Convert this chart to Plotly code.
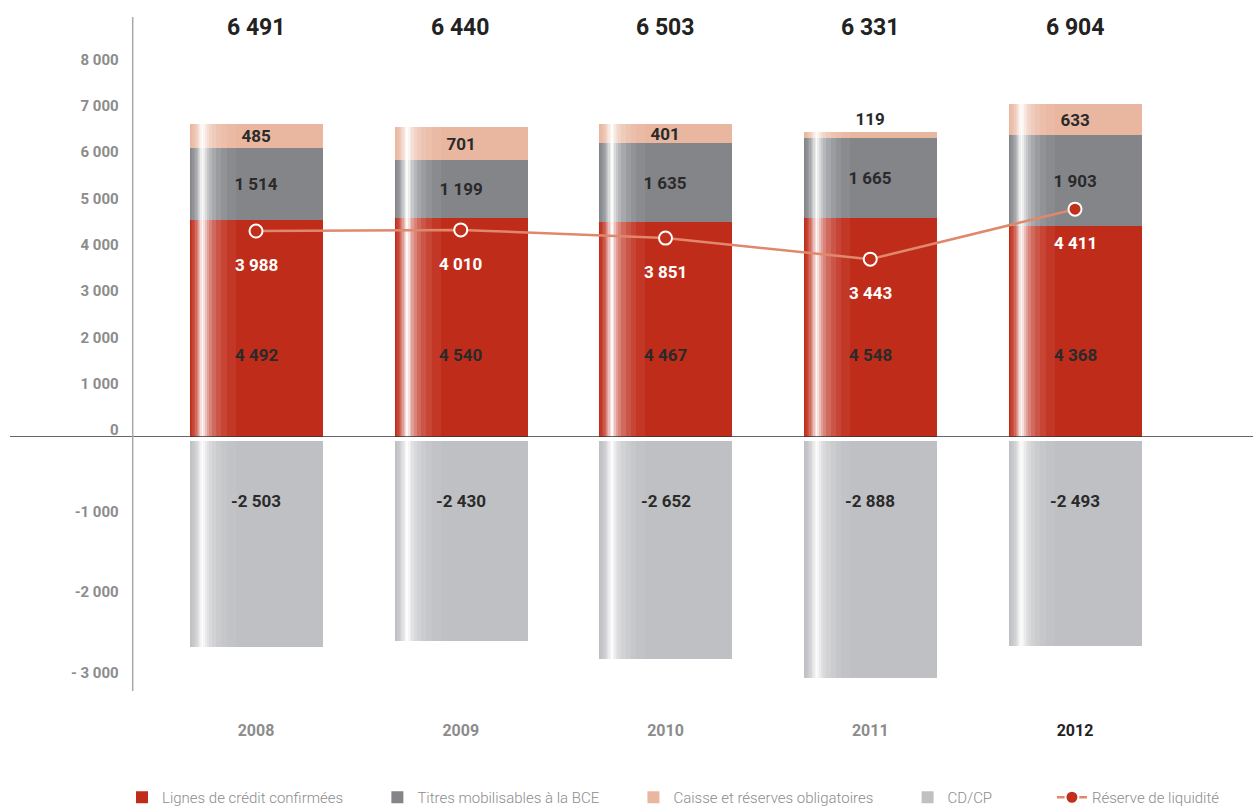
import plotly.graph_objects as go

# ---------------- data ----------------
years = ["2008", "2009", "2010", "2011", "2012"]
lignes_credit = [4492, 4540, 4467, 4548, 4368]
titres_bce = [1514, 1199, 1635, 1665, 1903]
caisse_reserves = [485, 701, 401, 119, 633]
cd_cp = [-2503, -2430, -2652, -2888, -2493]
reserve_liquidite = [3988, 4010, 3851, 3443, 4411]
totals = [6491, 6440, 6503, 6331, 6904]

pos_tick_vals = [0, 1000, 2000, 3000, 4000, 5000, 6000, 7000, 8000]
pos_tick_text = ["0", "1 000", "2 000", "3 000", "4 000", "5 000", "6 000", "7 000", "8 000"]
neg_tick_vals = [-1000, -2000, -3000]
neg_tick_text = ["-1 000", "-2 000", "- 3 000"]

# ---------------- styling ----------------
W, H = 1253, 808
FONT = "Roboto, Liberation Sans, Arial, sans-serif"
RED = "#bf2d1a"
DGRAY = "#848589"
PINK = "#e9b7a0"
LGRAY = "#bfc0c3"
LINE = "#e0886b"
MARK = "#c0301a"
TXT = "#2a2a2a"
TICK = "#8c8c8c"
PAD = "\u00a0" * 8  # extra spacing after legend entries


def py(p):
    return 1 - p / H


def pxx(p):
    return p / W


def fmt(v):
    return f"{v:,}".replace(",", " ")


BAR_W = 0.65
BAR_PX = 133.0
UPX = BAR_W / BAR_PX  # category units per pixel

# vertical scales (pixels per unit value)
POS_PX = 0.0482
NEG_PX = 0.0822
LINE_PX = 0.05165
TICK_POS_PX = 0.0463
TICK_NEG_PX = 0.0803
TOP_H = 437 - 17
BOT_H = 691 - 441

idx = list(range(len(years)))
stack_base_gray = [a for a in lignes_credit]
stack_base_pink = [a + b for a, b in zip(lignes_credit, titres_bce)]
stack_total = [a + b + c for a, b, c in zip(lignes_credit, titres_bce, caisse_reserves)]

fig = go.Figure()

fig.add_trace(go.Bar(
    x=years, y=lignes_credit, base=[0] * len(years), name="Lignes de crédit confirmées" + PAD,
    marker=dict(color=RED, line=dict(width=0)), width=BAR_W, offset=-BAR_W / 2,
    xaxis="x", yaxis="y", hoverinfo="skip",
))
fig.add_trace(go.Bar(
    x=years, y=titres_bce, base=stack_base_gray, name="Titres mobilisables à la BCE" + PAD,
    marker=dict(color=DGRAY, line=dict(width=0)), width=BAR_W, offset=-BAR_W / 2,
    text=[fmt(v) for v in titres_bce], textposition="inside", insidetextanchor="middle",
    constraintext="none",
    textfont=dict(family=FONT, size=17, color=TXT, weight="bold"),
    xaxis="x", yaxis="y", hoverinfo="skip",
))
fig.add_trace(go.Bar(
    x=years, y=caisse_reserves, base=stack_base_pink, name="Caisse et réserves obligatoires" + PAD,
    marker=dict(color=PINK, line=dict(width=0)), width=BAR_W, offset=-BAR_W / 2,
    text=[fmt(v) for v in caisse_reserves],
    textposition=["outside" if v < 300 else "inside" for v in caisse_reserves],
    insidetextanchor="middle", constraintext="none", cliponaxis=False,
    textfont=dict(family=FONT, size=17, color=TXT, weight="bold"),
    xaxis="x", yaxis="y", hoverinfo="skip",
))
fig.add_trace(go.Bar(
    x=years, y=cd_cp, base=[0] * len(years), name="CD/CP" + PAD + "\u00a0" * 7,
    marker=dict(color=LGRAY, line=dict(width=0)), width=BAR_W, offset=-BAR_W / 2,
    xaxis="x2", yaxis="y2", hoverinfo="skip",
))

# cylinder-like highlight: nested translucent white layers near the left edge
layer_left = [1, 2.5, 4, 5.2, 6.7, 7.8, 9, 10.5, 11.8]
layer_right = [46, 37, 31.5, 26.5, 22, 19, 16.8, 15, 13.2]
layer_level = [0.05, 0.12, 0.2, 0.3, 0.42, 0.55, 0.7, 0.85, 0.97]
prev = 0.0
for l0, r0, lev in zip(layer_left, layer_right, layer_level):
    a = 1 - (1 - lev) / (1 - prev)
    prev = lev
    col = f"rgba(255,255,255,{a:.3f})"
    off = -BAR_W / 2 + l0 * UPX
    wid = (r0 - l0) * UPX
    fig.add_trace(go.Bar(x=years, y=stack_total, base=[0] * len(years), width=wid, offset=off,
                         marker=dict(color=col, line=dict(width=0)), showlegend=False,
                         xaxis="x", yaxis="y", hoverinfo="skip"))
    fig.add_trace(go.Bar(x=years, y=cd_cp, base=[0] * len(years), width=wid, offset=off,
                         marker=dict(color=col, line=dict(width=0)), showlegend=False,
                         xaxis="x2", yaxis="y2", hoverinfo="skip"))

fig.add_trace(go.Scatter(
    x=years, y=reserve_liquidite, name="Réserve de liquidité", mode="lines+markers",
    line=dict(color=LINE, width=2.5),
    marker=dict(size=13, color=MARK, line=dict(color="white", width=2)),
    xaxis="x", yaxis="y4", hoverinfo="skip",
))

# empty carriers so that the tick-label axes get drawn (nothing is plotted)
fig.add_trace(go.Scatter(x=years, y=[None] * len(years), mode="markers", showlegend=False,
                         xaxis="x", yaxis="y3", hoverinfo="skip"))
fig.add_trace(go.Scatter(x=years, y=[None] * len(years), mode="markers", showlegend=False,
                         xaxis="x2", yaxis="y5", hoverinfo="skip"))

annotations = []
for i, t in zip(idx, totals):
    annotations.append(dict(x=i, y=py(27), xref="x", yref="paper", yanchor="middle", text=fmt(t),
                            showarrow=False,
                            font=dict(family=FONT, size=23, color="#222222", weight="bold")))
for i, v in zip(idx, lignes_credit):
    annotations.append(dict(x=i, y=py(355), xref="x", yref="paper", yanchor="middle", text=fmt(v),
                            showarrow=False,
                            font=dict(family=FONT, size=17, color=TXT, weight="bold")))
for i, v in zip(idx, cd_cp):
    annotations.append(dict(x=i, y=py(501), xref="x", yref="paper", yanchor="middle", text=fmt(v),
                            showarrow=False,
                            font=dict(family=FONT, size=17, color=TXT, weight="bold")))
for i, v in zip(idx, reserve_liquidite):
    annotations.append(dict(x=i, y=v, xref="x", yref="y4", text=fmt(v), showarrow=False, yshift=-34,
                            font=dict(family=FONT, size=17, color="white", weight="bold")))

year_text = [f"<span style='color:{'#222222' if i == len(years) - 1 else TICK}'>{y}</span>"
             for i, y in enumerate(years)]

x_dom = [pxx(256 - 0.5 * 204.75), pxx(1075 + 0.5 * 204.75)]
axis_common = dict(showgrid=False, zeroline=False, showline=False, fixedrange=True)

fig.update_layout(
    width=W, height=H,
    margin=dict(l=0, r=0, t=0, b=0, autoexpand=False),
    paper_bgcolor="white", plot_bgcolor="rgba(0,0,0,0)",
    barmode="overlay", bargap=0,
    font=dict(family=FONT, color=TICK),
    xaxis=dict(domain=x_dom, range=[-0.5, 4.5], type="category", anchor="y",
               showticklabels=False, ticks="", **axis_common),
    xaxis2=dict(domain=x_dom, range=[-0.5, 4.5], type="category", anchor="y2", matches="x",
                tickmode="array", tickvals=years, ticktext=year_text,
                ticks="outside", ticklen=25, tickcolor="rgba(0,0,0,0)",
                tickfont=dict(family=FONT, size=16, color=TICK, weight="bold"), **axis_common),
    yaxis=dict(domain=[py(437), py(17)], range=[0, TOP_H / POS_PX], visible=False, anchor="x",
               **axis_common),
    yaxis2=dict(domain=[py(691), py(441)], range=[-BOT_H / NEG_PX, 0], visible=False, anchor="x2",
                **axis_common),
    yaxis3=dict(overlaying="y", anchor="free", position=pxx(132.7), side="left",
                range=[-7 / TICK_POS_PX, (TOP_H - 7) / TICK_POS_PX],
                tickmode="array", tickvals=pos_tick_vals, ticktext=pos_tick_text,
                ticks="", ticklabelstandoff=14,
                tickfont=dict(family=FONT, size=15, color=TICK, weight="bold"), **axis_common),
    yaxis4=dict(overlaying="y", range=[0, TOP_H / LINE_PX], visible=False, **axis_common),
    yaxis5=dict(overlaying="y2", anchor="free", position=pxx(132.7), side="left",
                range=[-120 - BOT_H / TICK_NEG_PX, -120],
                tickmode="array", tickvals=neg_tick_vals, ticktext=neg_tick_text,
                ticks="", ticklabelstandoff=14,
                tickfont=dict(family=FONT, size=15, color=TICK, weight="bold"), **axis_common),
    shapes=[
        dict(type="line", xref="paper", yref="y", x0=pxx(10), x1=1, y0=0, y1=0,
             line=dict(color="#333333", width=1.5), layer="above"),
        dict(type="line", xref="paper", yref="paper", x0=pxx(132.7), x1=pxx(132.7),
             y0=py(691), y1=py(17), line=dict(color="#a8a8a8", width=1.5), layer="above"),
    ],
    annotations=annotations,
    legend=dict(orientation="h", x=pxx(122), xanchor="left", y=py(781), yanchor="top",
                font=dict(family=FONT, size=15, color=TICK, weight=300), bgcolor="rgba(0,0,0,0)",
                traceorder="normal"),
)

fig.write_html("out.html", config={"displayModeBar": False},
               post_script="document.body.style.margin='0px';")
